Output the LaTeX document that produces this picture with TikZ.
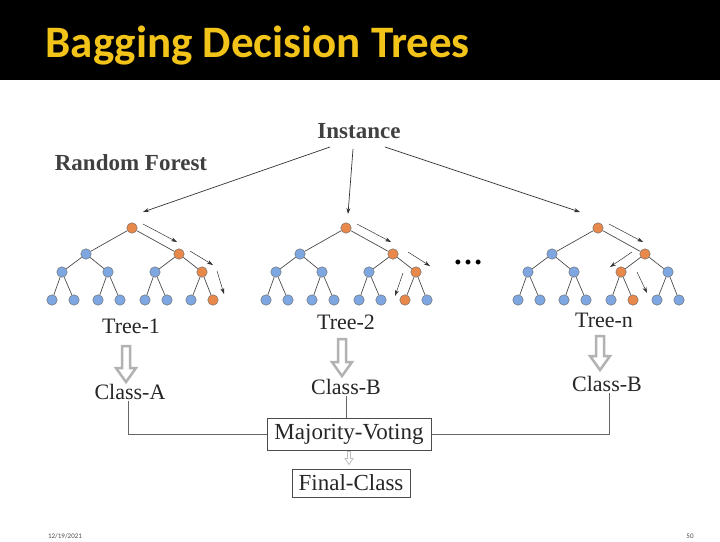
\documentclass[tikz,border=0pt]{standalone}
\usepackage{fontspec}
\setmainfont{Liberation Serif}
\newfontfamily\titlefont{Carlito}
\usetikzlibrary{arrows.meta}
\definecolor{nblue}{HTML}{7EA6E0}
\definecolor{norange}{HTML}{E8884A}
\definecolor{ttl}{HTML}{F2C318}
\tikzset{
  tn/.style={circle,draw=black!60,line width=0.4pt,fill=nblue,minimum size=10.5pt,inner sep=0pt},
  on/.style={tn,fill=norange},
  edge/.style={draw=black!70,line width=0.7pt},
  trarrow/.style={draw=black!80,line width=0.7pt,-{Stealth[length=6pt,width=4pt]}},
  lbl/.style={font=\fontsize{22}{24}\selectfont,inner sep=1pt,text=black!85},
  hol/.style={draw=black!30,fill=white,line width=2.5pt},
  conn/.style={draw=black!60,line width=1pt},
  boxn/.style={draw=black!70,line width=1pt,font=\fontsize{23}{25}\selectfont,inner sep=1pt,fill=white,text=black!85}
}
\newcommand{\mytree}[4]{%
  \begin{scope}[xshift=#2]
  \node[on] (#1r) at (132,228) {};
  \node[tn] (#1a) at (86,254) {};
  \node[on] (#1b) at (179,254) {};
  \foreach \i/\x in {1/62,2/108,3/155,4/202}{
    \ifnum\i=#3 \node[on] (#1c\i) at (\x,272) {}; \else \node[tn] (#1c\i) at (\x,272) {}; \fi}
  \foreach \i/\x in {1/52,2/74,3/98,4/120,5/145,6/167,7/191,8/213}{
    \ifnum\i=#4 \node[on] (#1d\i) at (\x,300) {}; \else \node[tn] (#1d\i) at (\x,300) {}; \fi}
  \draw[edge] (#1r)--(#1a) (#1r)--(#1b) (#1a)--(#1c1) (#1a)--(#1c2) (#1b)--(#1c3) (#1b)--(#1c4)
    (#1c1)--(#1d1) (#1c1)--(#1d2) (#1c2)--(#1d3) (#1c2)--(#1d4)
    (#1c3)--(#1d5) (#1c3)--(#1d6) (#1c4)--(#1d7) (#1c4)--(#1d8);
  \end{scope}}
\begin{document}
\begin{tikzpicture}[x=1pt,y=-1pt]
\fill[white] (0,0) rectangle (720,540);
\fill[black] (0,0) rectangle (720,80);
\node[anchor=west,text=ttl,font=\titlefont\bfseries\fontsize{45}{48}\selectfont] (title) at (42,46) {Bagging Decision Trees};
\node[font=\titlefont\fontsize{7}{8}\selectfont,text=black!70] (date) at (65,536) {12/19/2021};
\node[font=\titlefont\fontsize{7}{8}\selectfont,text=black!70] (pg) at (690,536) {50};

\node[font=\bfseries\fontsize{23}{25}\selectfont,text=black!75] (inst) at (359,131) {Instance};
\node[font=\bfseries\fontsize{23}{25}\selectfont,text=black!75] (rf) at (131,163) {Random Forest};

\mytree{A}{0}{4}{8}
\mytree{B}{214}{4}{7}
\mytree{C}{466}{3}{6}

\coordinate (i1) at (330,147); \coordinate (i2) at (353,149); \coordinate (i3) at (385,147);
\coordinate (t1) at (143,212); \coordinate (t2) at (348,214); \coordinate (t3) at (580,212);
\draw[trarrow] (i1)--(t1); \draw[trarrow] (i2)--(t2); \draw[trarrow] (i3)--(t3);

\foreach \dx in {0,214,466}{
  \begin{scope}[xshift=\dx]
  \coordinate (p1) at (143,224); \coordinate (q1) at (177,242);
  \draw[trarrow,line width=0.5pt] (p1)--(q1);
  \end{scope}}
\coordinate (a2) at (190,251); \coordinate (b2) at (213,265);
\coordinate (a3) at (217,271); \coordinate (b3) at (224,294);
\draw[trarrow,line width=0.5pt] (a2)--(b2); \draw[trarrow,line width=0.5pt] (a3)--(b3);
\coordinate (a4) at (408,252); \coordinate (b4) at (430,266);
\coordinate (a5) at (403,273); \coordinate (b5) at (395,296);
\draw[trarrow,line width=0.5pt] (a4)--(b4); \draw[trarrow,line width=0.5pt] (a5)--(b5);
\coordinate (a6) at (632,252); \coordinate (b6) at (610,267);
\coordinate (a7) at (637,272); \coordinate (b7) at (647,293);
\draw[trarrow,line width=0.5pt] (a6)--(b6); \draw[trarrow,line width=0.5pt] (a7)--(b7);

\node[font=\fontsize{30}{30}\selectfont] (dots) at (468,262) {\textbf{\ldots}};

\node[lbl] (tr1) at (131,326) {Tree-1};
\node[lbl] (tr2) at (346,322) {Tree-2};
\node[lbl] (trn) at (604,320) {Tree-n};
\node[lbl] (c1) at (130,392) {Class-A};
\node[lbl] (c2) at (346,387) {Class-B};
\node[lbl] (c3) at (607,384) {Class-B};

\foreach \x/\yt/\yb in {126/346/382, 342/339/376, 600/336/370}{
  \draw[hol] (\x-4,\yt) -- (\x+4,\yt) -- (\x+4,\yb-14) -- (\x+10,\yb-14) -- (\x,\yb) -- (\x-10,\yb-14) -- (\x-4,\yb-14) -- cycle;
}

\node[boxn,minimum width=164pt,minimum height=32pt] (mv) at (349,434) {Majority-Voting};
\node[boxn,minimum width=118pt,minimum height=28pt] (fc) at (351,483) {Final-Class};
\draw[conn] (c1.south) ++(-2,0) coordinate (c1b) -- (c1b |- mv.west) -- (mv.west);
\draw[conn] (c3.south) ++(2,0) coordinate (c3b) -- (c3b |- mv.east) -- (mv.east);
\draw[conn,line width=0.6pt] (c2.south) -- (c2.south |- mv.north);
\draw[draw=black!25,line width=0.8pt,fill=white] (mv.south) ++(-1.5,1) coordinate (h0) -- ++(3,0) -- ++(0,7) -- ++(2.5,0) -- ++(-4,6) -- ++(-4,-6) -- ++(2.5,0) -- cycle;
\end{tikzpicture}
\end{document}
